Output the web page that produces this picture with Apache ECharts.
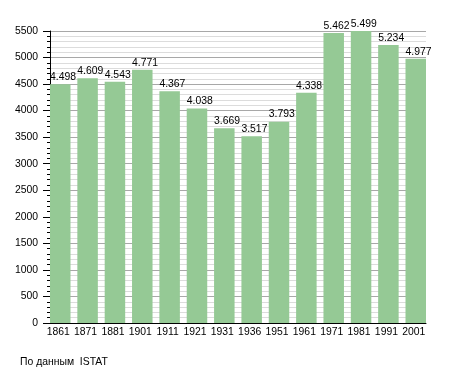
<!DOCTYPE html>
<html>
<head>
<meta charset="utf-8">
<script src="https://cdn.jsdelivr.net/npm/echarts@6/dist/echarts.min.js"></script>
<style>
html,body{margin:0;padding:0;background:#fff;}
#chart{width:455px;height:373px;}
</style>
</head>
<body>
<div id="chart"></div>
<script>
var years = ['1861','1871','1881','1901','1911','1921','1931','1936','1951','1961','1971','1981','1991','2001'];
var population = [4498,4609,4543,4771,4367,4038,3669,3517,3793,4338,5462,5499,5234,4977];
var yMin = 0, yMax = 5500, yStep = 500;
var sourceNote = 'По данным  ISTAT';

function fmt(v){
  var s = String(v);
  return s.replace(/\B(?=(\d{3})+(?!\d))/g, '.');
}

var FONT = 'Liberation Sans, Arial, sans-serif';
var chart = echarts.init(document.getElementById('chart'), null, {renderer:'canvas'});
chart.setOption({
  animation:false,
  backgroundColor:'#fff',
  textStyle:{fontFamily:FONT},
  graphic:[{type:'text',left:20,top:357,style:{text:sourceNote,fontSize:10.4,fontFamily:FONT,fill:'#000'}}],
  grid:[
    {left:50, right:29, top:31, bottom:50},
    {left:60.25, right:39.25, top:31, bottom:50}
  ],
  xAxis:[
    {gridIndex:0, type:'category', data:years, boundaryGap:true,
     axisLine:{show:true,lineStyle:{color:'#000',width:1}}, axisTick:{show:false}, axisLabel:{show:false}, splitLine:{show:false}},
    {gridIndex:1, type:'category', data:years, boundaryGap:false,
     axisLine:{show:false}, axisTick:{show:false},
     axisLabel:{show:true,color:'#000',fontSize:10.4,fontFamily:FONT,margin:4,interval:0,padding:[0,4,0,0]}, splitLine:{show:false}}
  ],
  yAxis:[
    {gridIndex:0, type:'value', min:yMin, max:yMax, interval:yStep,
     axisLine:{show:true,lineStyle:{color:'#000',width:1}},
     axisTick:{show:true,length:7,lineStyle:{color:'#000'}},
     minorTick:{show:true,splitNumber:5,length:3,lineStyle:{color:'#000'}},
     axisLabel:{color:'#000',fontSize:10.4,fontFamily:FONT,margin:12,formatter:function(v){return String(v);}},
     splitLine:{show:true,lineStyle:{color:'#a8a8a8',width:1}},
     minorSplitLine:{show:true,lineStyle:{color:'#dcdcdc',width:1}}},
    {gridIndex:1, type:'value', min:yMin, max:yMax, interval:yStep, show:false}
  ],
  series:[{
    type:'bar', xAxisIndex:1, yAxisIndex:1, data:population, barWidth:20.5,
    itemStyle:{color:'#95c995'},
    label:{show:true, position:[0,-2], align:'left', verticalAlign:'bottom', color:'#000', fontSize:10.4, fontFamily:FONT,
      formatter:function(p){return fmt(p.value);}}
  }]
});
</script>
</body>
</html>
